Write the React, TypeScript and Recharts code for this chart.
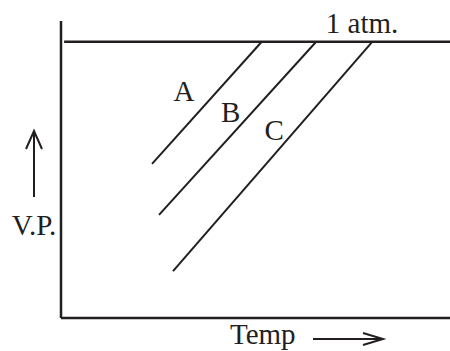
import React from 'react';
import { LineChart, Line, XAxis, YAxis, ReferenceLine, ReferenceDot, Label } from 'recharts';

// vapour pressure vs temperature for three liquids, all meeting the 1 atm line
const curveNames = ['A', 'B', 'C'];
const startTemp = [23.4, 25.2, 28.8];
const startVP = [51.9, 34.7, 15.8];
const boilTemp = [51.6, 65.6, 80.0];
const atmVP = 93;
const atmLineStart = 0.8;

// where the curve letters sit (temp, vp of the baseline centre)
const labelTemp = [31.6, 43.6, 54.8];
const labelVP = [73.2, 66.0, 59.8];
const atmLabel = { t: 77.4, v: 96.0 };

const INK = '#231f20';
const FONT = '"Liberation Serif", "Times New Roman", serif';
const FONT_SIZE = 29;

const series = curveNames.map((name, i) => ({
  name,
  data: [
    { t: startTemp[i], v: startVP[i] },
    { t: boilTemp[i], v: atmVP },
  ],
}));

function TextMark({ cx, cy, text, anchor = 'middle' }: any) {
  return (
    <text x={cx} y={cy} textAnchor={anchor} fontFamily={FONT} fontSize={FONT_SIZE} fill={INK}>
      {text}
    </text>
  );
}

function YAxisTitle({ viewBox }: any) {
  const x = (viewBox?.x ?? 60) + (viewBox?.width ?? 1);
  const y = viewBox?.y ?? 21;
  const ax = x - 27;
  return (
    <g>
      <line x1={ax} y1={y + 110} x2={ax} y2={y + 176} stroke={INK} strokeWidth={2} />
      <polyline
        points={`${ax - 8},${y + 128} ${ax},${y + 110} ${ax + 8},${y + 128}`}
        fill="none"
        stroke={INK}
        strokeWidth={2}
      />
      <text x={ax} y={y + 214} textAnchor="middle" fontFamily={FONT} fontSize={FONT_SIZE} fill={INK}>
        V.P.
      </text>
    </g>
  );
}

function XAxisTitle({ viewBox }: any) {
  const x = viewBox?.x ?? 61;
  const y = viewBox?.y ?? 318;
  const ay = y + 21;
  return (
    <g>
      <text x={x + 169} y={y + 26} fontFamily={FONT} fontSize={FONT_SIZE} fill={INK}>
        Temp
      </text>
      <line x1={x + 252} y1={ay} x2={x + 322} y2={ay} stroke={INK} strokeWidth={2} />
      <polyline
        points={`${x + 302},${ay - 6} ${x + 322},${ay} ${x + 302},${ay + 6}`}
        fill="none"
        stroke={INK}
        strokeWidth={2}
      />
    </g>
  );
}

export default function App() {
  return (
    <div style={{ position: 'absolute', left: 0, top: 0, width: 450, height: 351, background: '#fff' }}>
      <LineChart width={450} height={351} margin={{ top: 21, right: 0, bottom: 32, left: 60 }}>
        <XAxis
          type="number"
          dataKey="t"
          domain={[0, 100]}
          height={1}
          tick={false}
          tickLine={false}
          axisLine={{ stroke: INK, strokeWidth: 2.5 }}
        >
          <Label content={<XAxisTitle />} />
        </XAxis>
        <YAxis
          type="number"
          dataKey="v"
          domain={[0, 100]}
          width={1}
          tick={false}
          tickLine={false}
          axisLine={{ stroke: INK, strokeWidth: 2.5 }}
        >
          <Label content={<YAxisTitle />} />
        </YAxis>
        <ReferenceLine
          segment={[
            { x: atmLineStart, y: atmVP },
            { x: 100, y: atmVP },
          ]}
          stroke={INK}
          strokeWidth={2.5}
        />
        {series.map((s) => (
          <Line
            key={s.name}
            data={s.data}
            dataKey="v"
            type="linear"
            stroke={INK}
            strokeWidth={2}
            dot={false}
            activeDot={false}
            isAnimationActive={false}
          />
        ))}
        {curveNames.map((name, i) => (
          <ReferenceDot
            key={name}
            x={labelTemp[i]}
            y={labelVP[i]}
            r={0}
            shape={(p: any) => <TextMark cx={p.cx} cy={p.cy} text={name} />}
          />
        ))}
        <ReferenceDot
          x={atmLabel.t}
          y={atmLabel.v}
          r={0}
          shape={(p: any) => <TextMark cx={p.cx} cy={p.cy} text="1 atm." />}
        />
      </LineChart>
    </div>
  );
}
